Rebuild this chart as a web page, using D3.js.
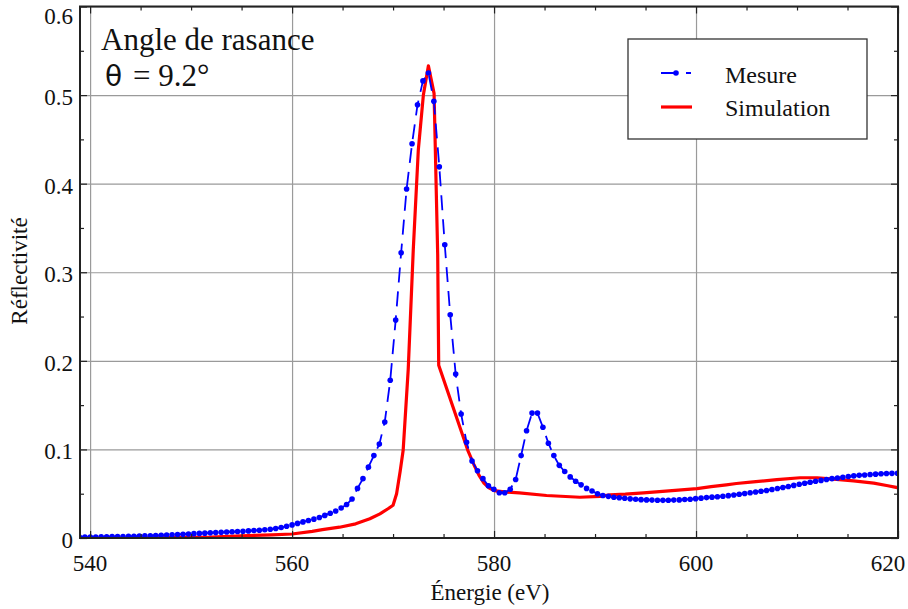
<!DOCTYPE html>
<html><head><meta charset="utf-8">
<script src="https://cdn.jsdelivr.net/npm/d3@7/dist/d3.min.js"></script>
<style>body{margin:0;background:#fff} svg{display:block}</style>
</head><body>
<svg id="c" width="908" height="609"></svg>
<script>
const energyMesure = [538.94,539.48,540.02,540.56,541.10,541.64,542.18,542.72,543.26,543.80,
544.34,544.88,545.42,545.96,546.50,547.04,547.58,548.12,548.66,549.20,
549.74,550.28,550.82,551.36,551.90,552.44,552.98,553.52,554.06,554.60,
555.14,555.68,556.22,556.76,557.30,557.84,558.38,558.92,559.46,560.00,
560.54,561.08,561.62,562.16,562.70,563.24,563.78,564.32,564.86,565.40,
565.94,566.48,567.02,567.56,568.10,568.64,569.18,569.72,570.26,570.80,
571.34,571.88,572.42,572.96,573.50,574.04,574.58,575.12,575.66,576.20,
576.74,577.28,577.82,578.36,578.90,579.44,579.98,580.52,581.06,581.60,
582.14,582.68,583.22,583.76,584.30,584.84,585.38,585.92,586.46,587.00,
587.54,588.08,588.62,589.16,589.70,590.24,590.78,591.32,591.86,592.40,
592.94,593.48,594.02,594.56,595.10,595.64,596.18,596.72,597.26,597.80,
598.34,598.88,599.42,599.96,600.50,601.04,601.58,602.12,602.66,603.20,
603.74,604.28,604.82,605.36,605.90,606.44,606.98,607.52,608.06,608.60,
609.14,609.68,610.22,610.76,611.30,611.84,612.38,612.92,613.46,614.00,
614.54,615.08,615.62,616.16,616.70,617.24,617.78,618.32,618.86,619.40,619.94];
const mesure = [0.001,0.001,0.001,0.0012,0.0013,0.0014,0.0015,0.0016,0.0017,0.0018,
0.002,0.0022,0.0024,0.0026,0.0028,0.003,0.0033,0.0036,0.004,0.0043,
0.0046,0.0049,0.0052,0.0055,0.0058,0.0061,0.0064,0.0067,0.007,0.0073,
0.0077,0.008,0.0084,0.0088,0.0093,0.0099,0.0107,0.0118,0.0132,0.0148,
0.0165,0.0182,0.0198,0.0213,0.0232,0.0255,0.028,0.0305,0.0338,0.0378,
0.044,0.056,0.067,0.080,0.093,0.106,0.131,0.178,0.246,0.322,
0.394,0.445,0.489,0.516,0.525,0.493,0.419,0.331,0.252,0.185,
0.140,0.108,0.087,0.076,0.067,0.059,0.055,0.051,0.051,0.055,
0.066,0.093,0.121,0.141,0.141,0.125,0.107,0.093,0.082,0.075,
0.069,0.064,0.060,0.056,0.053,0.050,0.048,0.047,0.046,0.0455,
0.0448,0.0442,0.0437,0.0433,0.043,0.0428,0.0426,0.0425,0.0426,0.0428,
0.043,0.0434,0.0438,0.0444,0.045,0.0456,0.0461,0.0466,0.0471,0.0478,
0.0486,0.0494,0.0502,0.051,0.0519,0.0528,0.0537,0.0548,0.0559,0.057,
0.0582,0.0594,0.0606,0.0618,0.063,0.064,0.065,0.066,0.067,0.0678,
0.0686,0.0694,0.0701,0.0707,0.0712,0.0717,0.0721,0.0725,0.0728,0.073,0.0731];
const energySim = [539,544,548,552,555,558,560,562,563,564.7,566.3,567.7,568.7,569.5,570.0,
570.35,570.7,571.0,571.5,572.0,572.5,573.0,573.5,574.06,574.42,574.52,
577.4,578.0,578.5,579.0,579.5,580.0,581,582.5,585.2,588.5,590.5,591.5,593,594.8,
597,600.1,601.5,603,604,605.4,608,610.3,612,613.6,615.6,617.6,619,620.1];
const simulation = [0,0,0.0005,0.001,0.0025,0.0035,0.0045,0.0075,0.0095,0.0122,0.016,0.0217,0.0273,0.033,0.037,
0.05,0.075,0.099,0.19,0.325,0.438,0.5,0.533,0.502,0.32,0.195,
0.099,0.083,0.071,0.062,0.0565,0.0535,0.052,0.051,0.048,0.046,0.047,0.0488,0.0495,0.051,
0.053,0.0558,0.058,0.060,0.0615,0.063,0.066,0.068,0.068,0.0665,0.0645,0.062,0.059,0.0565];
const xTicks = [540,560,580,600,620];
const xTickLabels = ["540","560","580","600","620"];
const xMinorTicks = [545,550,555,565,570,575,585,590,595,605,610,615];
const yTicks = [0,0.1,0.2,0.3,0.4,0.5,0.6];
const yTickLabels = ["0","0.1","0.2","0.3","0.4","0.5","0.6"];
const yMinorTicks = [0.05,0.15,0.25,0.35,0.45,0.55];
const seriesNames = ["Mesure","Simulation"];

const L = 80, R = 898, T = 6.5, B = 538;
const svg = d3.select("#c");
const x = d3.scaleLinear().domain([539.0, 620.0]).range([L, R]);
const y = d3.scaleLinear().domain([0, 0.6]).range([B, T]);
const serif = "'Liberation Serif', 'Times New Roman', serif";

svg.append("defs").append("clipPath").attr("id","clip")
  .append("rect").attr("x",L).attr("y",T).attr("width",R-L).attr("height",B-T);

// grid
const grid = svg.append("g");
grid.append("g").attr("transform",`translate(0,${B})`)
  .call(d3.axisBottom(x).tickValues(xTicks).tickSize(-(B-T)).tickFormat(""))
  .call(g=>g.select(".domain").remove())
  .call(g=>g.selectAll("line").attr("stroke","#9a9a9a").attr("stroke-width",1.2));
grid.append("g").attr("transform",`translate(${L},0)`)
  .call(d3.axisLeft(y).tickValues(yTicks).tickSize(-(R-L)).tickFormat(""))
  .call(g=>g.select(".domain").remove())
  .call(g=>g.selectAll("line").attr("stroke","#9a9a9a").attr("stroke-width",1.2));

// data
const plot = svg.append("g").attr("clip-path","url(#clip)");
const lineM = d3.line().x((d,i)=>x(energyMesure[i])).y(d=>y(d));
const lineS = d3.line().x((d,i)=>x(energySim[i])).y(d=>y(d));
plot.append("path").datum(simulation).attr("d",lineS)
  .attr("fill","none").attr("stroke","#ff0000").attr("stroke-width",3.2).attr("stroke-linejoin","round");
plot.append("path").datum(mesure).attr("d",lineM)
  .attr("fill","none").attr("stroke","#0000ff").attr("stroke-width",1.8).attr("stroke-dasharray","15,9");
plot.selectAll("circle.m").data(mesure).join("circle").attr("class","m")
  .attr("cx",(d,i)=>x(energyMesure[i])).attr("cy",d=>y(d)).attr("r",2.8).attr("fill","#0000ff");

// ticks (inward, all sides)
function tickStyle(g){ g.select(".domain").remove(); g.selectAll("line").attr("stroke","#222").attr("stroke-width",1.2); }
svg.append("g").attr("transform",`translate(0,${B})`).call(d3.axisBottom(x).tickValues(xTicks).tickSize(-7).tickFormat("")).call(tickStyle);
svg.append("g").attr("transform",`translate(0,${B})`).call(d3.axisBottom(x).tickValues(xMinorTicks).tickSize(-4).tickFormat("")).call(tickStyle);
svg.append("g").attr("transform",`translate(0,${T})`).call(d3.axisTop(x).tickValues(xTicks).tickSize(-7).tickFormat("")).call(tickStyle);
svg.append("g").attr("transform",`translate(0,${T})`).call(d3.axisTop(x).tickValues(xMinorTicks).tickSize(-4).tickFormat("")).call(tickStyle);
svg.append("g").attr("transform",`translate(${L},0)`).call(d3.axisLeft(y).tickValues(yTicks).tickSize(-7).tickFormat("")).call(tickStyle);
svg.append("g").attr("transform",`translate(${L},0)`).call(d3.axisLeft(y).tickValues(yMinorTicks).tickSize(-4).tickFormat("")).call(tickStyle);
svg.append("g").attr("transform",`translate(${R},0)`).call(d3.axisRight(y).tickValues(yTicks).tickSize(-7).tickFormat("")).call(tickStyle);
svg.append("g").attr("transform",`translate(${R},0)`).call(d3.axisRight(y).tickValues(yMinorTicks).tickSize(-4).tickFormat("")).call(tickStyle);

// frame
svg.append("rect").attr("x",L).attr("y",T).attr("width",R-L).attr("height",B-T)
  .attr("fill","none").attr("stroke","#222").attr("stroke-width",2);

// tick labels
svg.append("g").selectAll("text").data(xTicks).join("text")
  .attr("x",(d,i)=> Math.min(x(d), 888)).attr("y",571)
  .attr("text-anchor","middle").attr("font-family",serif).attr("font-size",23).attr("fill","#111")
  .text((d,i)=>xTickLabels[i]);
svg.append("g").selectAll("text").data(yTicks).join("text")
  .attr("x",73).attr("y",d=>Math.max(y(d), 14)+2).attr("dy","0.35em")
  .attr("text-anchor","end").attr("font-family",serif).attr("font-size",23).attr("fill","#111")
  .text((d,i)=>yTickLabels[i]);

// axis titles
svg.append("text").attr("x",490).attr("y",600).attr("text-anchor","middle")
  .attr("font-family",serif).attr("font-size",23).attr("fill","#111").text("Énergie (eV)");
svg.append("text").attr("transform","translate(27,271) rotate(-90)").attr("text-anchor","middle")
  .attr("font-family",serif).attr("font-size",23).attr("fill","#111").text("Réflectivité");

// annotation
svg.append("text").attr("x",101).attr("y",49.5).attr("font-family",serif).attr("font-size",31)
  .attr("fill","#111").text("Angle de rasance");
svg.append("text").attr("x",105).attr("y",86).attr("font-family","'DejaVu Sans', sans-serif").attr("font-size",28)
  .attr("fill","#111").text("θ");
svg.append("text").attr("x",133).attr("y",86).attr("font-family",serif).attr("font-size",31)
  .attr("fill","#111").text("= 9.2°");

// legend
const lg = svg.append("g");
lg.append("rect").attr("x",628).attr("y",39).attr("width",239).attr("height",100)
  .attr("fill","#fff").attr("stroke","#333").attr("stroke-width",1.3);
lg.append("line").attr("x1",661).attr("x2",691).attr("y1",73).attr("y2",73)
  .attr("stroke","#0000ff").attr("stroke-width",1.8).attr("stroke-dasharray","15,10");
lg.append("circle").attr("cx",676).attr("cy",73).attr("r",2.8).attr("fill","#0000ff");
lg.append("line").attr("x1",661).attr("x2",692).attr("y1",107).attr("y2",107)
  .attr("stroke","#ff0000").attr("stroke-width",3.2);
lg.append("text").attr("x",725).attr("y",83).attr("font-family",serif).attr("font-size",24).attr("fill","#111").text(seriesNames[0]);
lg.append("text").attr("x",725).attr("y",116).attr("font-family",serif).attr("font-size",24).attr("fill","#111").text(seriesNames[1]);
</script>
</body></html>
